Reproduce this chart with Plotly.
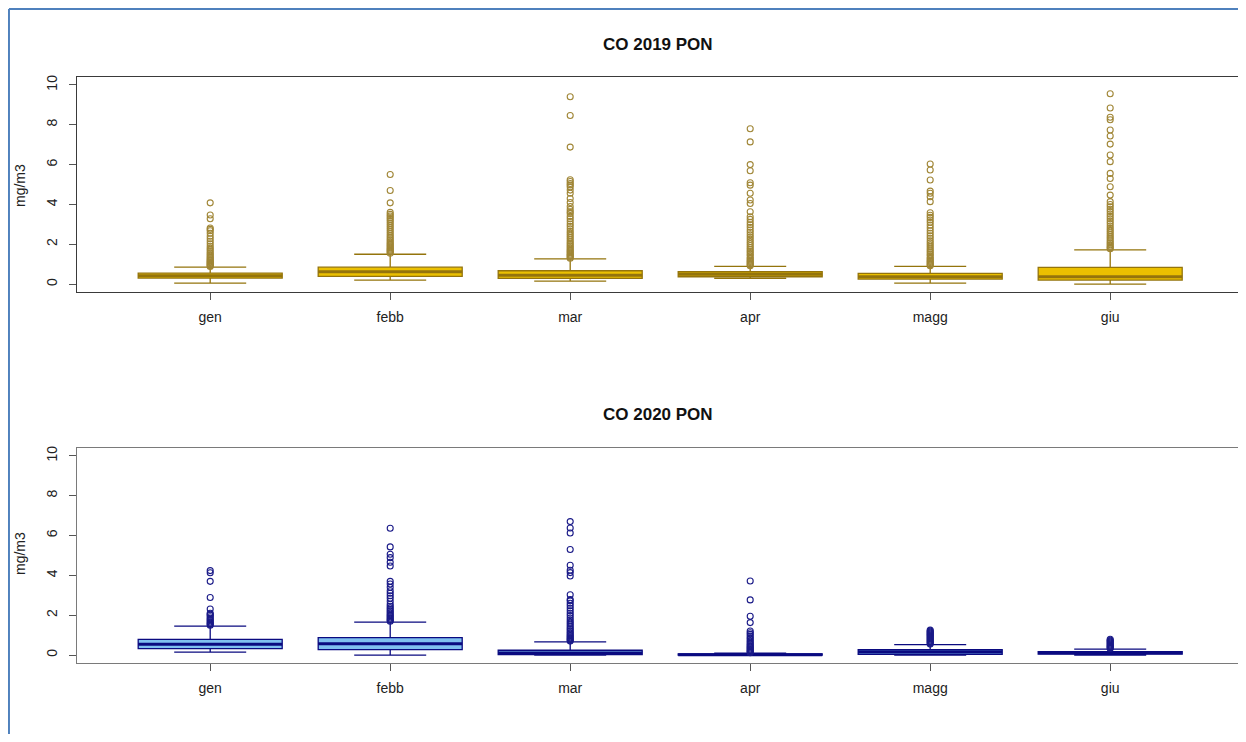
import plotly.graph_objects as go

months = ["gen", "febb", "mar", "apr", "magg", "giu"]
positions = [1, 2, 3, 4, 5, 6]
y_ticks = [0, 2, 4, 6, 8, 10]

# ---- CO 2019 PON ----
q1_2019 = [0.30, 0.39, 0.29, 0.37, 0.25, 0.20]
med_2019 = [0.42, 0.62, 0.45, 0.50, 0.37, 0.37]
q3_2019 = [0.55, 0.85, 0.67, 0.62, 0.54, 0.84]
low_2019 = [0.05, 0.20, 0.15, 0.29, 0.05, 0.00]
high_2019 = [0.85, 1.50, 1.27, 0.89, 0.89, 1.72]

out_gen_2019 = [0.88, 0.92, 0.96, 1.0, 1.04, 1.08, 1.12, 1.17, 1.22, 1.27, 1.33, 1.4, 1.47, 1.55,
                1.63, 1.72, 1.8, 1.9, 2.02, 2.15, 2.28, 2.4, 2.55, 2.68, 2.75, 2.82, 3.28, 3.47, 4.08]
out_febb_2019 = [1.55, 1.6, 1.65, 1.7, 1.75, 1.8, 1.86, 1.92, 1.98, 2.05, 2.12, 2.2, 2.28, 2.36,
                 2.45, 2.55, 2.65, 2.75, 2.85, 2.95, 3.05, 3.15, 3.25, 3.33, 3.42, 3.5, 3.6, 4.08, 4.7, 5.5]
out_mar_2019 = [1.3, 1.35, 1.4, 1.45, 1.5, 1.56, 1.62, 1.68, 1.75, 1.82, 1.9, 1.98, 2.06, 2.15, 2.25,
                2.35, 2.45, 2.55, 2.65, 2.78, 2.9, 3.02, 3.15, 3.28, 3.4, 3.55, 3.63, 3.75, 3.9, 4.1,
                4.3, 4.56, 4.72, 4.88, 4.98, 5.05, 5.15, 5.24, 6.88, 8.47, 9.41]
out_apr_2019 = [0.92, 0.97, 1.02, 1.08, 1.14, 1.2, 1.27, 1.34, 1.42, 1.5, 1.58, 1.66, 1.75, 1.84,
                1.94, 2.04, 2.14, 2.25, 2.36, 2.48, 2.6, 2.72, 2.85, 2.98, 3.1, 3.25, 3.38, 3.63, 4.05,
                4.22, 4.56, 4.97, 5.09, 5.69, 6.0, 7.14, 7.8]
out_magg_2019 = [0.92, 0.97, 1.02, 1.08, 1.14, 1.2, 1.27, 1.34, 1.42, 1.5, 1.58, 1.67, 1.76, 1.86,
                 1.96, 2.07, 2.18, 2.3, 2.42, 2.55, 2.68, 2.82, 2.96, 3.1, 3.22, 3.35, 3.46, 3.58, 4.14,
                 4.39, 4.56, 4.67, 5.23, 5.73, 6.03]
out_giu_2019 = [1.78, 1.83, 1.9, 1.97, 2.05, 2.13, 2.22, 2.31, 2.4, 2.5, 2.6, 2.7, 2.8, 2.92, 3.04,
                3.16, 3.28, 3.4, 3.52, 3.64, 3.76, 3.88, 4.0, 4.14, 4.47, 4.89, 5.3, 5.56, 6.15, 6.48,
                7.03, 7.44, 7.74, 8.25, 8.38, 8.84, 9.56]
outliers_2019 = [out_gen_2019, out_febb_2019, out_mar_2019, out_apr_2019, out_magg_2019, out_giu_2019]

# ---- CO 2020 PON ----
q1_2020 = [0.32, 0.27, 0.02, 0.00, 0.04, 0.05]
med_2020 = [0.54, 0.57, 0.10, 0.02, 0.17, 0.12]
q3_2020 = [0.79, 0.87, 0.24, 0.06, 0.27, 0.17]
low_2020 = [0.15, 0.00, 0.00, 0.00, 0.00, 0.00]
high_2020 = [1.45, 1.65, 0.66, 0.10, 0.52, 0.30]

out_gen_2020 = [1.5, 1.55, 1.6, 1.66, 1.72, 1.78, 1.85, 1.92, 2.0, 2.05, 2.1, 2.31, 2.89, 3.70, 4.13, 4.24]
out_febb_2020 = [1.7, 1.75, 1.8, 1.86, 1.92, 1.98, 2.05, 2.12, 2.2, 2.28, 2.36, 2.45, 2.55, 2.7, 2.85,
                 2.98, 3.1, 3.23, 3.4, 3.57, 3.7, 4.47, 4.66, 4.89, 5.06, 5.43, 6.37]
out_mar_2020 = [0.7, 0.75, 0.8, 0.86, 0.92, 0.98, 1.05, 1.12, 1.2, 1.28, 1.36, 1.45, 1.55, 1.65, 1.75,
                1.86, 1.98, 2.1, 2.22, 2.35, 2.48, 2.6, 2.72, 2.79, 3.03, 3.97, 4.14, 4.26, 4.51, 5.3,
                6.13, 6.38, 6.7]
out_apr_2020 = [0.12, 0.16, 0.2, 0.25, 0.3, 0.35, 0.4, 0.46, 0.52, 0.58, 0.65, 0.72, 0.8, 0.87, 0.95,
                1.04, 1.12, 1.21, 1.63, 1.95, 2.77, 3.72]
out_magg_2020 = [0.55, 0.6, 0.65, 0.7, 0.75, 0.8, 0.85, 0.9, 0.95, 1.0, 1.05, 1.1, 1.15, 1.2, 1.25]
out_giu_2020 = [0.33, 0.37, 0.41, 0.45, 0.5, 0.55, 0.6, 0.65, 0.7, 0.74, 0.79]
outliers_2020 = [out_gen_2020, out_febb_2020, out_mar_2020, out_apr_2020, out_magg_2020, out_giu_2020]

BOX_WIDTH = 0.8
FONT = "Liberation Sans, Arial, sans-serif"

panels = [
    dict(xa="x", ya="y", q1=q1_2019, med=med_2019, q3=q3_2019, lo=low_2019, hi=high_2019,
         outs=outliers_2019, fill="#EBC000", line="#94740C", pt="#A08636"),
    dict(xa="x2", ya="y2", q1=q1_2020, med=med_2020, q3=q3_2020, lo=low_2020, hi=high_2020,
         outs=outliers_2020, fill="#80C0F0", line="#0A0A80", pt="#1A1A88"),
]

fig = go.Figure()
for p in panels:
    fig.add_trace(go.Box(
        x=positions, q1=p["q1"], median=p["med"], q3=p["q3"],
        lowerfence=p["lo"], upperfence=p["hi"],
        width=BOX_WIDTH, whiskerwidth=0.5, boxpoints=False,
        fillcolor=p["fill"], line=dict(color=p["line"], width=1.3),
        xaxis=p["xa"], yaxis=p["ya"], showlegend=False, hoverinfo="skip"))
    # thick median lines (R style)
    mx, my = [], []
    for pos, m in zip(positions, p["med"]):
        mx += [pos - BOX_WIDTH / 2, pos + BOX_WIDTH / 2, None]
        my += [m, m, None]
    fig.add_trace(go.Scatter(x=mx, y=my, mode="lines", line=dict(color=p["line"], width=3),
                             xaxis=p["xa"], yaxis=p["ya"], showlegend=False, hoverinfo="skip"))
    # outliers
    ox, oy = [], []
    for pos, vals in zip(positions, p["outs"]):
        ox += [pos] * len(vals)
        oy += vals
    fig.add_trace(go.Scatter(x=ox, y=oy, mode="markers",
                             marker=dict(symbol="circle-open", size=6, color=p["pt"],
                                         line=dict(width=1.1, color=p["pt"])),
                             xaxis=p["xa"], yaxis=p["ya"], showlegend=False, hoverinfo="skip"))

def xaxis(anchor, linecolor):
    return dict(domain=[0, 1], anchor=anchor, range=[0.26, 6.71], tickmode="array",
                tickvals=positions, ticktext=months, showline=True, mirror=True,
                linecolor=linecolor, linewidth=1, ticks="outside", ticklen=7,
                tickcolor="#555555", showgrid=False, zeroline=False, ticklabelstandoff=5,
                tickfont=dict(family=FONT, size=14, color="#222222"))

def yaxis(anchor, domain, linecolor):
    return dict(domain=domain, anchor=anchor, range=[-0.4, 10.4], tickmode="array",
                tickvals=y_ticks, showline=True, mirror=True, linecolor=linecolor,
                linewidth=1, ticks="outside", ticklen=7, tickcolor="#555555",
                tickangle=-90, showgrid=False, zeroline=False, ticklabelstandoff=6,
                tickfont=dict(family=FONT, size=14, color="#222222"))

fig.update_layout(
    width=1230, height=726,
    margin=dict(l=69, r=0, t=69, b=71),
    paper_bgcolor="white", plot_bgcolor="white",
    xaxis=xaxis("y", "#3a3a3a"),
    yaxis=yaxis("x", [0.633, 1.0], "#3a3a3a"),
    xaxis2=xaxis("y2", "#7a7a7a"),
    yaxis2=yaxis("x2", [0.0, 0.367], "#7a7a7a"),
    annotations=[
        dict(text="<b>CO 2019 PON</b>", xref="paper", yref="paper", x=0.5, y=1.0563,
             xanchor="center", yanchor="middle",
             showarrow=False, font=dict(family=FONT, size=17, color="#111111")),
        dict(text="<b>CO 2020 PON</b>", xref="paper", yref="paper", x=0.5, y=0.4249,
             xanchor="center", yanchor="middle",
             showarrow=False, font=dict(family=FONT, size=17, color="#111111")),
        dict(text="mg/m3", xref="paper", yref="paper", x=-0.0491, y=0.8157, textangle=-90,
             xanchor="center", yanchor="middle",
             showarrow=False, font=dict(family=FONT, size=14, color="#222222")),
        dict(text="mg/m3", xref="paper", yref="paper", x=-0.0491, y=0.1877, textangle=-90,
             xanchor="center", yanchor="middle",
             showarrow=False, font=dict(family=FONT, size=14, color="#222222")),
    ],
    shapes=[
        dict(type="line", xref="paper", yref="paper", x0=-0.0586, x1=1.01, y0=1.116, y1=1.116,
             line=dict(color="#4F81BD", width=2)),
        dict(type="line", xref="paper", yref="paper", x0=-0.0586, x1=-0.0586, y0=1.116, y1=-0.13,
             line=dict(color="#4F81BD", width=2)),
    ],
)

fig.write_html("out.html")
